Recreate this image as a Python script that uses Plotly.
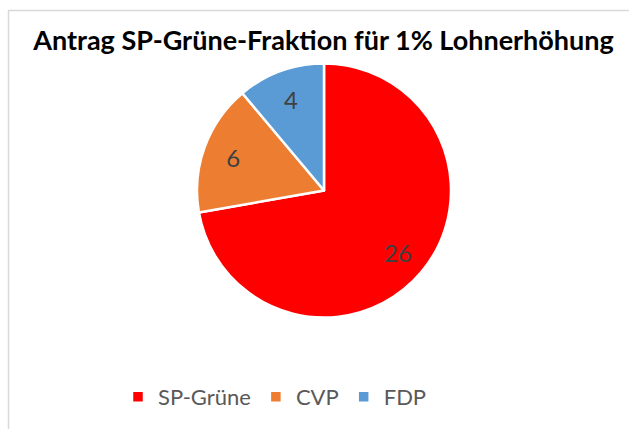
import plotly.graph_objects as go

categories = ["SP-Grüne", "CVP", "FDP"]
values = [26, 6, 4]
colors = ["#FF0000", "#ED7D31", "#5B9BD5"]
title_text = "Antrag SP-Grüne-Fraktion für 1% Lohnerhöhung"

W, H = 629, 429
cx, cy, r = 324, 190.5, 127
domain = dict(x=[(cx - r) / W, (cx + r) / W], y=[1 - (cy + r) / H, 1 - (cy - r) / H])

# Coloured slices
fig = go.Figure(go.Pie(
    labels=categories,
    values=values,
    sort=False,
    direction="clockwise",
    rotation=0,
    marker=dict(colors=colors, line=dict(color="white", width=2.5)),
    textinfo="none",
    domain=domain,
    hoverinfo="label+value",
))

# Transparent ring carrying the value labels (places them at ~3/4 radius)
fig.add_trace(go.Pie(
    labels=categories,
    values=values,
    sort=False,
    direction="clockwise",
    rotation=0,
    hole=0.52,
    marker=dict(colors=["rgba(0,0,0,0)"] * len(values), line=dict(width=0)),
    textinfo="value",
    textposition="inside",
    insidetextorientation="horizontal",
    textfont=dict(family="Lato", size=24, color="#404040"),
    domain=domain,
    showlegend=False,
    hoverinfo="skip",
))

fig.update_layout(
    width=W, height=H,
    margin=dict(l=0, r=0, t=0, b=0),
    paper_bgcolor="white",
    font=dict(family="Lato"),
    title=dict(text="<b>" + title_text + "</b>", x=323.5 / W, xanchor="center",
               y=1 - 41 / H, yanchor="middle",
               font=dict(family="Lato", size=27, color="black")),
    showlegend=True,
    legend=dict(orientation="h", x=275 / W, xanchor="center", y=1 - 397 / H, yanchor="middle",
                font=dict(family="Lato", size=22, color="#595959"),
                itemwidth=30, traceorder="normal"),
    shapes=[dict(type="rect", xref="paper", yref="paper",
                 x0=8.5 / W, x1=1.05, y0=-0.05, y1=1 - 10.5 / H,
                 line=dict(color="#D9D9D9", width=1.5), fillcolor="rgba(0,0,0,0)")],
)

fig.write_html("out.html", config={"displayModeBar": False},
               post_script="document.body.style.margin='0';document.body.style.overflow='hidden';")
